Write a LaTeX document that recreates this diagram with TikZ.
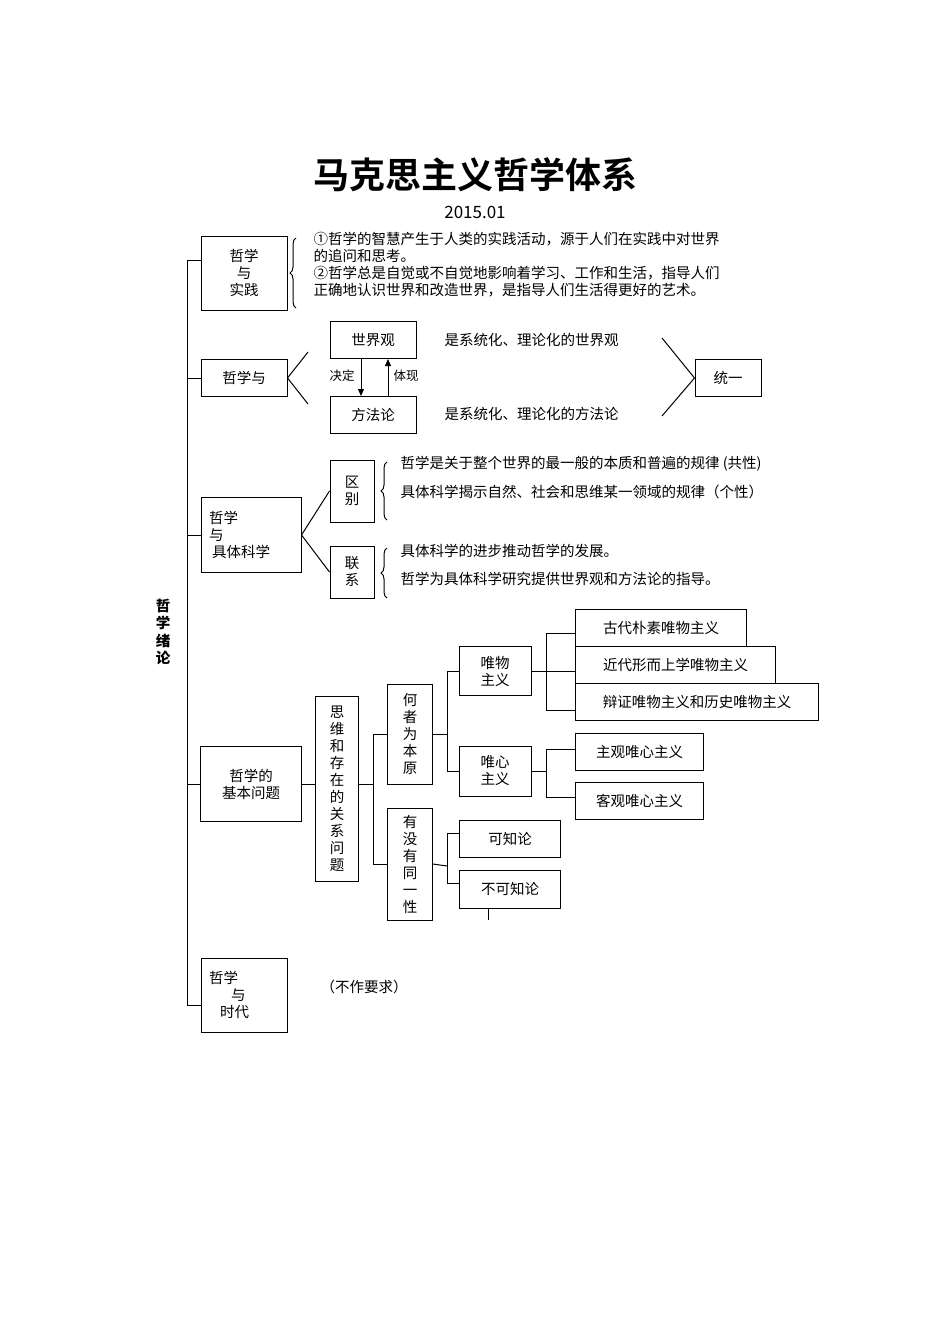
\documentclass[tikz,border=0pt]{standalone}
\usepackage{fontspec}
\setmainfont{Noto Sans CJK SC}
\newfontfamily\tfont{Noto Sans CJK SC Bold}
\usetikzlibrary{decorations.pathreplacing,arrows.meta}
\begin{document}
\begin{tikzpicture}[x=1pt,y=-1pt,line width=1pt,
  bx/.style={draw,inner sep=0pt,font=\fontsize{14.5}{17}\selectfont,align=center},
  tx/.style={inner sep=0pt,anchor=west,font=\fontsize{14.5}{17}\selectfont,align=left},
  sm/.style={inner sep=0pt,font=\fontsize{12.5}{15}\selectfont},
  br/.style={decorate,decoration={brace,amplitude=6pt}}]
\useasboundingbox[fill=white] (0,0) rectangle (950,1344);
\node[inner sep=0pt,font=\tfont\fontsize{36}{40}\selectfont] (title) at (475,175) {马克思主义哲学体系};
\node[inner sep=0pt,font=\fontsize{17}{20}\selectfont] (date) at (475,212) {2015.01};
\node[inner sep=0pt,font=\bfseries\fontsize{14.5}{17.5}\selectfont,align=center] (root) at (163,632) {哲\\学\\绪\\论};
% trunk
\coordinate (t0) at (187,260); \coordinate (t5) at (187,1005);
\draw (t0) -- (t5);
% box1
\node[bx,minimum width=86pt,minimum height=74pt] (b1) at (244,273) {哲学\\与\\实践};
\draw (t0) -- (t0-|b1.west);
\draw[br] (296,308) -- (296,238);
\node[tx] (p1) at (313,265) {①哲学的智慧产生于人类的实践活动，源于人们在实践中对世界\\的追问和思考。\\②哲学总是自觉或不自觉地影响着学习、工作和生活，指导人们\\正确地认识世界和改造世界，是指导人们生活得更好的艺术。};
% box2
\node[bx,minimum width=86pt,minimum height=37pt] (b2) at (244,378) {哲学与};
\coordinate (t2) at (187,378); \draw (t2) -- (b2.west);
\coordinate (a1) at (308,352); \coordinate (a2) at (308,404);
\draw (a1) -- (b2.east) -- (a2);
\node[bx,minimum width=86pt,minimum height=37pt] (sj) at (373,340) {世界观};
\node[bx,minimum width=86pt,minimum height=37pt] (ff) at (373,415) {方法论};
\draw[-{Triangle[length=7pt,width=6pt]}] (sj.south-|361,0) -- (ff.north-|361,0);
\draw[-{Triangle[length=7pt,width=6pt]}] (ff.north-|388,0) -- (sj.south-|388,0);
\node[sm] (jd) at (342,376) {决定};
\node[sm] (tix) at (406,376) {体现};
\node[tx] (s1) at (444,340) {是系统化、理论化的世界观};
\node[tx] (s2) at (444,414) {是系统化、理论化的方法论};
\node[bx,minimum width=66pt,minimum height=37pt] (ty) at (728,378) {统一};
\coordinate (c1) at (662,338); \coordinate (c2) at (662,416);
\draw (c1) -- (ty.west) -- (c2);
% box3
\node[bx,minimum width=100pt,minimum height=75pt,align=left,text width=84pt] (b3) at (251,535) {哲学\\与\\\hspace*{3pt}具体科学};
\coordinate (t3) at (187,535); \draw (t3) -- (b3.west);
\node[bx,minimum width=44pt,minimum height=62pt] (qb) at (352,491) {区\\别};
\node[bx,minimum width=44pt,minimum height=52pt] (lx) at (352,572) {联\\系};
\draw (qb.west) -- (b3.east) -- (lx.west);
\draw[br] (387,520) -- (387,462);
\draw[br] (387,598) -- (387,548);
\node[tx] (q1) at (400,464) {哲学是关于整个世界的最一般的本质和普遍的规律 (共性)};
\node[tx] (q2) at (400,492) {具体科学揭示自然、社会和思维某一领域的规律（个性）};
\node[tx] (l1) at (400,551) {具体科学的进步推动哲学的发展。};
\node[tx] (l2) at (400,579) {哲学为具体科学研究提供世界观和方法论的指导。};
% box4
\node[bx,minimum width=101pt,minimum height=75pt] (b4) at (251,784) {哲学的\\基本问题};
\coordinate (t4) at (187,784); \draw (t4) -- (b4.west);
\node[bx,minimum width=43pt,minimum height=185pt] (sw) at (337,789) {思\\维\\和\\存\\在\\的\\关\\系\\问\\题};
\draw (b4.east) -- (b4.east-|sw.west);
\node[bx,minimum width=45pt,minimum height=100pt] (hz) at (410,734) {何\\者\\为\\本\\原};
\node[bx,minimum width=45pt,minimum height=112pt] (ym) at (410,864) {有\\没\\有\\同\\一\\性};
\coordinate (j1) at (373,784);
\draw (sw.east|-j1) -- (j1);
\draw (hz.west-|j1) -- (hz.west); \draw (ym.west-|j1) -- (ym.west);
\draw (hz.west-|j1) -- (ym.west-|j1);
\node[bx,minimum width=72pt,minimum height=49pt,align=left] (wu) at (495,671) {唯物\\主义};
\node[bx,minimum width=72pt,minimum height=50pt,align=left] (wx) at (495,771) {唯心\\主义};
\coordinate (j2) at (447,734);
\draw (hz.east) -- (j2);
\draw (wu.west-|j2) -- (wx.west-|j2);
\draw (wu.west-|j2) -- (wu.west); \draw (wx.west-|j2) -- (wx.west);
\node[tx,draw,minimum height=37pt,minimum width=171pt,inner xsep=12pt] (g1) at (575,628) {古代朴素唯物主义};
\node[tx,draw,minimum height=37pt,minimum width=200pt,inner xsep=12pt] (g2) at (575,665) {近代形而上学唯物主义};
\node[tx,draw,minimum height=37pt,minimum width=243pt,inner xsep=12pt] (g3) at (575,702) {辩证唯物主义和历史唯物主义};
\coordinate (j3) at (546,671);
\draw (wu.east) -- (j3);
\draw (546,633) -- (546,710);
\draw (546,633) -- (g1.west|-0,633); \draw (j3) -- (g2.west|-j3); \draw (546,710) -- (g3.west|-0,710);
\node[tx,draw,minimum height=37pt,minimum width=128pt,inner xsep=12pt] (h1) at (575,752) {主观唯心主义};
\node[tx,draw,minimum height=37pt,minimum width=128pt,inner xsep=12pt] (h2) at (575,801) {客观唯心主义};
\coordinate (j4) at (546,771);
\draw (wx.east) -- (j4); \draw (546,749) -- (546,797);
\draw (546,749) -- (h1.west|-0,749); \draw (546,797) -- (h2.west|-0,797);
\node[tx,draw,minimum height=37pt,minimum width=101pt,inner xsep=12pt] (k1) at (459,839) {可知论};
\node[tx,draw,minimum height=38pt,minimum width=101pt,inner xsep=12pt] (k2) at (459,889) {不可知论};
\coordinate (j5) at (447,866);
\draw (ym.east) -- (j5); \draw (447,833) -- (447,883);
\draw (447,833) -- (k1.west|-0,833); \draw (447,883) -- (k2.west|-0,883);
\coordinate (tk) at (488,920);
\draw (k2.south-|tk) -- (tk);
% box5
\node[bx,minimum width=86pt,minimum height=74pt,align=left,text width=70pt] (b5) at (244,995) {哲学\\\hspace*{22pt}与\\\hspace*{11pt}时代};
\draw (t5) -- (t5-|b5.west);
\node[tx] (bz) at (320,987) {（不作要求）};
\end{tikzpicture}
\end{document}
